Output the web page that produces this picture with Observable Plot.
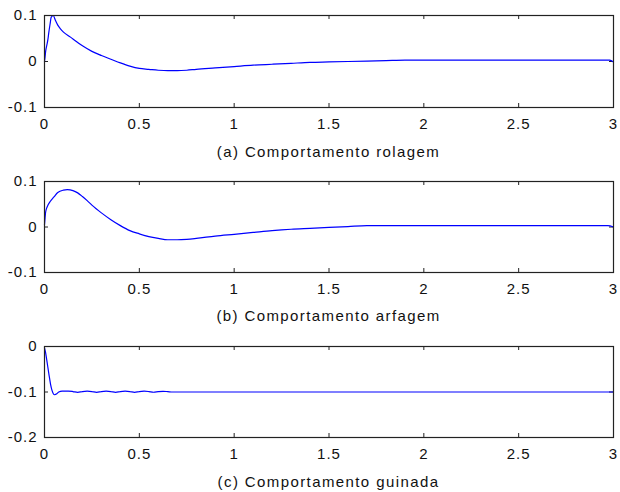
<!DOCTYPE html>
<html>
<head>
<meta charset="utf-8">
<script src="https://cdn.jsdelivr.net/npm/d3@7"></script>
<script src="https://cdn.jsdelivr.net/npm/@observablehq/plot@0.6"></script>
<style>
  html, body { margin: 0; padding: 0; background: #fff; }
  #wrap { position: relative; width: 620px; height: 492px; overflow: hidden; font-family: "Liberation Sans", Arial, sans-serif; }
  .panel { position: absolute; left: 0; }
  .cap { position: absolute; left: 44px; width: 569px; text-align: center; font-size: 15px; line-height: 16px; letter-spacing: 1.4px; color: #111; }
</style>
</head>
<body>
<div id="wrap"></div>
<script>
// Time axis ticks
const xTicks = [0, 0.5, 1, 1.5, 2, 2.5, 3];
const xTickLabels = ["0", "0.5", "1", "1.5", "2", "2.5", "3"];

// (a) rolagem
const rolT = [0, 0.003, 0.006, 0.012, 0.018, 0.023, 0.03, 0.035, 0.046, 0.058, 0.07, 0.084, 0.1, 0.137, 0.15, 0.2, 0.25, 0.3, 0.35, 0.4, 0.45, 0.5, 0.55, 0.6, 0.65, 0.7, 0.75, 0.8, 0.9, 1.0, 1.1, 1.2, 1.3, 1.4, 1.5, 1.6, 1.7, 1.8, 1.9, 2.0, 2.5, 2.98, 3.0];
const rolY = [0, 0.01, 0.022, 0.035, 0.048, 0.064, 0.083, 0.096, 0.1, 0.089, 0.079, 0.071, 0.064, 0.053, 0.049, 0.034, 0.022, 0.013, 0.005, -0.003, -0.01, -0.015, -0.017, -0.019, -0.02, -0.02, -0.019, -0.017, -0.014, -0.011, -0.008, -0.006, -0.004, -0.002, -0.001, 0, 0.001, 0.002, 0.003, 0.003, 0.003, 0.003, -0.001];
const rolYTicks = [-0.1, 0, 0.1];
const rolYLabels = ["-0.1", "0", "0.1"];

// (b) arfagem
const arfT = [0, 0.003, 0.006, 0.015, 0.03, 0.05, 0.07, 0.1, 0.12, 0.15, 0.175, 0.2, 0.225, 0.25, 0.3, 0.35, 0.4, 0.45, 0.5, 0.55, 0.6, 0.65, 0.7, 0.75, 0.8, 0.9, 1.0, 1.1, 1.2, 1.3, 1.4, 1.5, 1.6, 1.7, 2.0, 2.5, 2.97, 3.0];
const arfY = [0.005, 0.02, 0.033, 0.045, 0.056, 0.066, 0.076, 0.081, 0.082, 0.08, 0.075, 0.067, 0.058, 0.048, 0.031, 0.016, 0.003, -0.008, -0.015, -0.021, -0.025, -0.028, -0.028, -0.027, -0.025, -0.02, -0.016, -0.012, -0.008, -0.005, -0.003, -0.001, 0.001, 0.003, 0.003, 0.003, 0.003, 0];
const arfYTicks = [-0.1, 0, 0.1];
const arfYLabels = ["-0.1", "0", "0.1"];

// (c) guinada
const guiT = [0, 0.005, 0.012, 0.023, 0.032, 0.04, 0.053, 0.065, 0.075, 0.093, 0.125, 0.15, 0.175, 0.2, 0.225, 0.25, 0.275, 0.3, 0.325, 0.35, 0.375, 0.4, 0.425, 0.45, 0.475, 0.5, 0.525, 0.55, 0.575, 0.6, 0.625, 0.65, 0.675, 0.7, 1.0, 1.5, 2.0, 2.5, 3.0];
const guiY = [-0.003, -0.012, -0.03, -0.06, -0.083, -0.097, -0.106, -0.104, -0.1, -0.098, -0.098, -0.099, -0.1007, -0.099, -0.0982, -0.099, -0.1007, -0.099, -0.0982, -0.099, -0.1007, -0.099, -0.0982, -0.099, -0.1007, -0.099, -0.0982, -0.099, -0.1005, -0.0992, -0.0985, -0.0992, -0.1, -0.1, -0.1, -0.1, -0.1, -0.1, -0.1];
const guiYTicks = [-0.2, -0.1, 0];
const guiYLabels = ["-0.2", "-0.1", "0"];

const captions = ["(a) Comportamento rolagem", "(b) Comportamento arfagem", "(c) Comportamento guinada"];

const panels = [
  {t: rolT, y: rolY, yTicks: rolYTicks, yLabels: rolYLabels, domain: [-0.1, 0.1], top: 0, mb: 58},
  {t: arfT, y: arfY, yTicks: arfYTicks, yLabels: arfYLabels, domain: [-0.1, 0.1], top: 166, mb: 59},
  {t: guiT, y: guiY, yTicks: guiYTicks, yLabels: guiYLabels, domain: [-0.2, 0], top: 331, mb: 59}
];
const capTops = [144, 308, 474];

const W = 620, H = 165, ML = 44, MR = 7, MT = 15;
const TICK = 4;
const wrap = document.getElementById("wrap");

panels.forEach((p, i) => {
  const innerW = W - ML - MR;
  const innerH = H - MT - p.mb;
  const data = p.t.map((t, k) => ({t, v: p.y[k]}));
  const chart = Plot.plot({
    width: W,
    height: H,
    marginLeft: ML,
    marginRight: MR,
    marginTop: MT,
    marginBottom: p.mb,
    style: {fontFamily: "'Liberation Sans', Arial, sans-serif", fontSize: "15px", letterSpacing: "1px", color: "#111", background: "transparent"},
    x: {domain: [0, 3]},
    y: {domain: p.domain},
    marks: [
      Plot.axisX({ticks: xTicks, tickFormat: (d, k) => xTickLabels[k], tickSize: 0, tickPadding: 11, label: null}),
      Plot.axisY({ticks: p.yTicks, tickFormat: (d, k) => p.yLabels[k], tickSize: 0, tickPadding: 7, label: null}),
      Plot.tickX(xTicks, {x: d => d, insetBottom: innerH - TICK, stroke: "#222"}),
      Plot.tickX(xTicks, {x: d => d, insetTop: innerH - TICK, stroke: "#222"}),
      Plot.tickY(p.yTicks, {y: d => d, insetRight: innerW - TICK, stroke: "#222"}),
      Plot.tickY(p.yTicks, {y: d => d, insetLeft: innerW - TICK, stroke: "#222"}),
      Plot.line(data, {x: "t", y: "v", stroke: "#0000ff", strokeWidth: 1.2, curve: "monotone-x"}),
      Plot.frame({stroke: "#222", strokeWidth: 1.2})
    ]
  });
  chart.classList.add("panel");
  chart.style.top = p.top + "px";
  wrap.appendChild(chart);

  const cap = document.createElement("div");
  cap.className = "cap";
  cap.style.top = capTops[i] + "px";
  cap.textContent = captions[i];
  wrap.appendChild(cap);
});
</script>
</body>
</html>
